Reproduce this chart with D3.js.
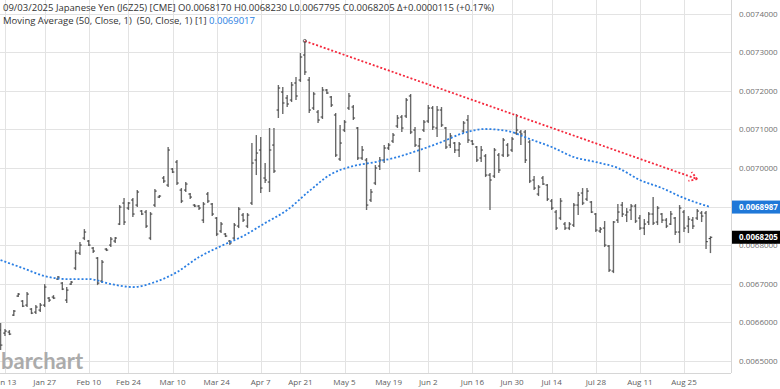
<!DOCTYPE html>
<html>
<head>
<meta charset="utf-8">
<script src="https://cdn.jsdelivr.net/npm/d3@7/dist/d3.min.js"></script>
<style>
  html, body { margin: 0; padding: 0; background: #fff; }
  svg { display: block; font-family: "Open Sans", "DejaVu Sans", sans-serif; }
</style>
</head>
<body>
<svg id="chart" width="780" height="389"></svg>
<script>
// daily bars J6Z25, Jan 10 .. Sep 3 2025 (one value per trading day)
const holidays = ['2025-01-20', '2025-02-17', '2025-04-18', '2025-05-26', '2025-06-19', '2025-07-04', '2025-09-01'];

const open = [
  0.0065801, 0.0065723, 0.0065749, 0.0066189, 0.0066682, 0.0066552, 0.0066448, 0.0066345, 0.0066267, 0.0066319,
  0.0066448, 0.0066630, 0.0066656, 0.0067122, 0.0067018, 0.0066578, 0.0066992, 0.0067407, 0.0067796, 0.0068184,
  0.0068107, 0.0067925, 0.0067666, 0.0067070, 0.0067899, 0.0068003, 0.0068107, 0.0068547, 0.0069091, 0.0068961,
  0.0069169, 0.0069039, 0.0068884, 0.0068858, 0.0068184, 0.0069039, 0.0069246, 0.0069739, 0.0069557, 0.0069972,
  0.0070153, 0.0069427, 0.0069427, 0.0069324, 0.0069039, 0.0069013, 0.0068650, 0.0069324, 0.0069065, 0.0068702,
  0.0068366, 0.0068288, 0.0068107, 0.0068184, 0.0068495, 0.0068780, 0.0068495, 0.0069091, 0.0070205, 0.0070464,
  0.0069739, 0.0069635, 0.0070593, 0.0071500, 0.0071966, 0.0071811, 0.0071759, 0.0072200, 0.0072277, 0.0072925,
  0.0072277, 0.0071552, 0.0071448, 0.0071319, 0.0072018, 0.0071837, 0.0071371, 0.0070231, 0.0070982, 0.0071552,
  0.0071578, 0.0071034, 0.0070257, 0.0070205, 0.0069169, 0.0069609, 0.0070049, 0.0070205, 0.0070516, 0.0070697,
  0.0071086, 0.0071319, 0.0071345, 0.0071863, 0.0070982, 0.0070568, 0.0070982, 0.0071215, 0.0071552, 0.0071034,
  0.0071500, 0.0071034, 0.0070593, 0.0070645, 0.0070464, 0.0070956, 0.0071241, 0.0070697, 0.0070542, 0.0070257,
  0.0070309, 0.0069816, 0.0069790, 0.0070334, 0.0070334, 0.0070593, 0.0070464, 0.0070904, 0.0070930, 0.0070930,
  0.0070671, 0.0069687, 0.0069324, 0.0069739, 0.0069557, 0.0069143, 0.0068858, 0.0068702, 0.0068547, 0.0068443,
  0.0068521, 0.0069039, 0.0069350, 0.0069194, 0.0069117, 0.0068806, 0.0068366, 0.0068443, 0.0067977, 0.0067329,
  0.0068650, 0.0069039, 0.0068780, 0.0068910, 0.0069013, 0.0068702, 0.0068443, 0.0068599, 0.0068806, 0.0068599,
  0.0068806, 0.0068650, 0.0068547, 0.0068702, 0.0068340, 0.0068858, 0.0068495, 0.0068650, 0.0068702, 0.0068832,
  0.0068832, 0.0068170
];
const high = [
  0.0065982, 0.0065827, 0.0065801, 0.0066319, 0.0066759, 0.0066578, 0.0066785, 0.0066371, 0.0066448, 0.0066500,
  0.0066992, 0.0066656, 0.0066707, 0.0067200, 0.0067044, 0.0066915, 0.0067070, 0.0067873, 0.0068081, 0.0068417,
  0.0068132, 0.0067951, 0.0067692, 0.0067614, 0.0067925, 0.0068210, 0.0068210, 0.0069039, 0.0069220, 0.0069117,
  0.0069220, 0.0069427, 0.0068910, 0.0068910, 0.0068858, 0.0069453, 0.0069298, 0.0069790, 0.0070542, 0.0069998,
  0.0070205, 0.0069479, 0.0069635, 0.0069350, 0.0069065, 0.0069039, 0.0069117, 0.0069376, 0.0069091, 0.0068728,
  0.0068599, 0.0068314, 0.0068132, 0.0068573, 0.0068987, 0.0068832, 0.0068832, 0.0070645, 0.0070852, 0.0070801,
  0.0070127, 0.0071034, 0.0071034, 0.0072148, 0.0072096, 0.0071889, 0.0072226, 0.0072355, 0.0072977, 0.0073288,
  0.0072355, 0.0071966, 0.0071500, 0.0072096, 0.0072044, 0.0071863, 0.0071423, 0.0071112, 0.0071241, 0.0071941,
  0.0071630, 0.0071060, 0.0070568, 0.0070257, 0.0069453, 0.0070075, 0.0070283, 0.0070593, 0.0070645, 0.0070904,
  0.0071371, 0.0071371, 0.0071811, 0.0071915, 0.0071060, 0.0070775, 0.0071241, 0.0071630, 0.0071604, 0.0071604,
  0.0071578, 0.0071060, 0.0070904, 0.0070671, 0.0070671, 0.0071215, 0.0071371, 0.0070723, 0.0070568, 0.0070568,
  0.0070360, 0.0069868, 0.0070516, 0.0070386, 0.0070775, 0.0070645, 0.0070801, 0.0071397, 0.0070982, 0.0070982,
  0.0070723, 0.0069790, 0.0069557, 0.0069790, 0.0069583, 0.0069194, 0.0068910, 0.0069220, 0.0068599, 0.0068599,
  0.0069091, 0.0069376, 0.0069479, 0.0069479, 0.0069143, 0.0068832, 0.0068469, 0.0068625, 0.0068003, 0.0068625,
  0.0069065, 0.0069117, 0.0068961, 0.0069065, 0.0069065, 0.0068780, 0.0068676, 0.0068858, 0.0069246, 0.0069013,
  0.0068832, 0.0068702, 0.0068884, 0.0068728, 0.0069039, 0.0068910, 0.0068754, 0.0068728, 0.0068935, 0.0068884,
  0.0068884, 0.0068230
];
const low = [
  0.0065283, 0.0065645, 0.0065671, 0.0066163, 0.0066656, 0.0066397, 0.0066397, 0.0066215, 0.0066215, 0.0066267,
  0.0066397, 0.0066526, 0.0066604, 0.0067096, 0.0066837, 0.0066500, 0.0066966, 0.0067355, 0.0067744, 0.0068132,
  0.0067977, 0.0067796, 0.0066966, 0.0067018, 0.0067847, 0.0067951, 0.0068055, 0.0068521, 0.0068521, 0.0068910,
  0.0068728, 0.0068987, 0.0068780, 0.0068443, 0.0068132, 0.0068987, 0.0069220, 0.0069609, 0.0069505, 0.0069868,
  0.0069557, 0.0069091, 0.0069376, 0.0069194, 0.0068987, 0.0068910, 0.0068573, 0.0069091, 0.0068754, 0.0068236,
  0.0068314, 0.0068210, 0.0068003, 0.0068132, 0.0068443, 0.0068599, 0.0068443, 0.0069039, 0.0069816, 0.0069350,
  0.0069609, 0.0069376, 0.0069868, 0.0071293, 0.0071397, 0.0071578, 0.0071707, 0.0071759, 0.0072226, 0.0072407,
  0.0071423, 0.0071500, 0.0071164, 0.0071267, 0.0071915, 0.0071578, 0.0070283, 0.0070179, 0.0070930, 0.0071500,
  0.0071241, 0.0070205, 0.0070205, 0.0068910, 0.0069117, 0.0069557, 0.0069946, 0.0070127, 0.0070464, 0.0070645,
  0.0071034, 0.0070930, 0.0071293, 0.0070878, 0.0070542, 0.0069894, 0.0070930, 0.0071164, 0.0070982, 0.0070801,
  0.0071060, 0.0070490, 0.0070516, 0.0070386, 0.0070283, 0.0070904, 0.0070645, 0.0070593, 0.0070153, 0.0070153,
  0.0069764, 0.0068910, 0.0069739, 0.0069868, 0.0070283, 0.0070283, 0.0070412, 0.0070852, 0.0070593, 0.0070127,
  0.0069609, 0.0069427, 0.0069272, 0.0069557, 0.0069143, 0.0068910, 0.0068391, 0.0068650, 0.0068391, 0.0068391,
  0.0068469, 0.0068780, 0.0069039, 0.0069143, 0.0068832, 0.0068340, 0.0068314, 0.0067951, 0.0067303, 0.0067277,
  0.0068573, 0.0068728, 0.0068599, 0.0068650, 0.0068573, 0.0068391, 0.0068262, 0.0068521, 0.0068521, 0.0068521,
  0.0068573, 0.0068443, 0.0068521, 0.0068262, 0.0068055, 0.0068340, 0.0068314, 0.0068417, 0.0068650, 0.0068599,
  0.0067899, 0.0067795
];
const close = [
  0.0065412, 0.0065775, 0.0065697, 0.0066293, 0.0066733, 0.0066422, 0.0066733, 0.0066241, 0.0066397, 0.0066448,
  0.0066915, 0.0066578, 0.0066630, 0.0067174, 0.0066863, 0.0066837, 0.0067044, 0.0067796, 0.0068003, 0.0068340,
  0.0068003, 0.0067847, 0.0067018, 0.0067562, 0.0067873, 0.0068158, 0.0068184, 0.0068987, 0.0068599, 0.0069091,
  0.0068806, 0.0069376, 0.0068806, 0.0068495, 0.0068806, 0.0069401, 0.0069272, 0.0069661, 0.0070464, 0.0069894,
  0.0069609, 0.0069143, 0.0069583, 0.0069246, 0.0069013, 0.0068961, 0.0069065, 0.0069143, 0.0068806, 0.0068288,
  0.0068547, 0.0068236, 0.0068055, 0.0068521, 0.0068935, 0.0068650, 0.0068780, 0.0070127, 0.0070386, 0.0069479,
  0.0069687, 0.0070464, 0.0069920, 0.0072070, 0.0071682, 0.0071656, 0.0072148, 0.0071863, 0.0072873, 0.0072485,
  0.0071500, 0.0071915, 0.0071241, 0.0072018, 0.0071941, 0.0071630, 0.0070334, 0.0070645, 0.0071189, 0.0071863,
  0.0071293, 0.0070257, 0.0070464, 0.0069039, 0.0069376, 0.0069998, 0.0070205, 0.0070516, 0.0070593, 0.0070852,
  0.0071293, 0.0071034, 0.0071759, 0.0070930, 0.0070593, 0.0070749, 0.0071189, 0.0071552, 0.0071060, 0.0071500,
  0.0071112, 0.0070542, 0.0070827, 0.0070464, 0.0070619, 0.0071164, 0.0070723, 0.0070619, 0.0070205, 0.0070464,
  0.0069816, 0.0069687, 0.0070464, 0.0069946, 0.0070723, 0.0070334, 0.0070749, 0.0070982, 0.0070878, 0.0070205,
  0.0069661, 0.0069479, 0.0069505, 0.0069583, 0.0069194, 0.0068961, 0.0068443, 0.0069143, 0.0068443, 0.0068547,
  0.0069039, 0.0069298, 0.0069091, 0.0069401, 0.0068858, 0.0068391, 0.0068417, 0.0068003, 0.0067355, 0.0068599,
  0.0068858, 0.0068806, 0.0068858, 0.0069013, 0.0068625, 0.0068443, 0.0068547, 0.0068806, 0.0068573, 0.0068961,
  0.0068650, 0.0068495, 0.0068806, 0.0068340, 0.0068961, 0.0068443, 0.0068676, 0.0068495, 0.0068884, 0.0068754,
  0.0068090, 0.0068205
];

// 50-day moving average
const maDates = ['2025-01-10', '2025-01-17', '2025-01-27', '2025-02-03', '2025-02-10', '2025-02-18', '2025-02-25',
  '2025-03-04', '2025-03-11', '2025-03-18', '2025-03-25', '2025-04-01', '2025-04-08', '2025-04-15', '2025-04-23',
  '2025-04-30', '2025-05-07', '2025-05-14', '2025-05-21', '2025-05-29', '2025-06-05', '2025-06-12', '2025-06-20',
  '2025-06-27', '2025-07-07', '2025-07-14', '2025-07-21', '2025-07-28', '2025-08-04', '2025-08-11', '2025-08-18',
  '2025-08-25', '2025-09-03'];
const maValues = [0.0067614, 0.0067407, 0.0067200, 0.0067122, 0.0067122, 0.0066992, 0.0066915,
  0.0067044, 0.0067303, 0.0067692, 0.0067977, 0.0068236, 0.0068573, 0.0068910, 0.0069401,
  0.0069842, 0.0070049, 0.0070153, 0.0070283, 0.0070464, 0.0070671, 0.0070904, 0.0071008,
  0.0070956, 0.0070749, 0.0070542, 0.0070283, 0.0070153, 0.0069998, 0.0069687, 0.0069479,
  0.0069220, 0.0068987];

// red trend line drawn on the chart
const trendDates = ['2025-04-22', '2025-08-28'];
const trendValues = [0.0073288, 0.0069713];

const tickDates = ['2025-01-13', '2025-01-27', '2025-02-10', '2025-02-24', '2025-03-10', '2025-03-24', '2025-04-07',
  '2025-04-21', '2025-05-05', '2025-05-19', '2025-06-02', '2025-06-16', '2025-06-30', '2025-07-14', '2025-07-28',
  '2025-08-11', '2025-08-25'];
const priceTicks = d3.range(0.0065, 0.00741, 0.0001);

const lastClose = 0.0068205;
const lastMA = 0.0068987;

// trading days
const parse = d3.timeParse('%Y-%m-%d');
const fmtDay = d3.timeFormat('%Y-%m-%d');
const days = d3.timeDay.range(parse('2025-01-10'), parse('2025-09-04'))
  .filter(d => d.getDay() !== 0 && d.getDay() !== 6)
  .map(fmtDay)
  .filter(d => holidays.indexOf(d) < 0);
if (days.length !== close.length) console.error('day count', days.length, close.length);

const bars = days.map((d, i) => ({ d: d, o: open[i], h: high[i], l: low[i], c: close[i] }));

const plotR = 731, plotB = 373;
const step = (684 - 5) / 154;

const x = d3.scalePoint()
  .domain(days)
  .range([5 - step, 5 + step * (days.length - 2)]);
const y = d3.scaleLinear()
  .domain([0.0065, 0.0074])
  .range([361, 13.5]);

const svg = d3.select('#chart');

// grid
const grid = svg.append('g').attr('stroke', '#e3e3e3').attr('stroke-width', 1);
grid.selectAll('line.h').data(priceTicks).enter().append('line')
  .attr('x1', 0).attr('x2', plotR)
  .attr('y1', d => Math.round(y(d)) + 0.5).attr('y2', d => Math.round(y(d)) + 0.5);
grid.selectAll('line.v').data(tickDates).enter().append('line')
  .attr('x1', d => Math.round(x(d)) + 0.5).attr('x2', d => Math.round(x(d)) + 0.5)
  .attr('y1', 0).attr('y2', plotB);

// frame right/bottom
svg.append('line').attr('x1', plotR + 0.5).attr('x2', plotR + 0.5).attr('y1', 0).attr('y2', plotB)
  .attr('stroke', '#d6d6d6');
svg.append('line').attr('x1', 0).attr('x2', plotR).attr('y1', plotB + 0.5).attr('y2', plotB + 0.5)
  .attr('stroke', '#d6d6d6');

// watermark
svg.append('text')
  .attr('x', 1).attr('y', 369)
  .attr('font-family', 'Lato, "Open Sans", sans-serif')
  .attr('font-size', 22).attr('font-weight', 700)
  .attr('fill', '#ababab')
  .text('barchart');

// y axis labels
svg.append('g').selectAll('text').data(priceTicks).enter().append('text')
  .attr('x', 739).attr('y', d => y(d) + 3)
  .attr('font-size', 8).attr('fill', '#707070')
  .text(d => d3.format('.7f')(d));

// x axis labels
svg.append('g').selectAll('text').data(tickDates).enter().append('text')
  .attr('x', d => x(d)).attr('y', 385)
  .attr('text-anchor', 'middle')
  .attr('font-size', 8).attr('fill', '#606060')
  .text(d => d3.timeFormat('%b %-d')(parse(d)));

// OHLC bars
const g = svg.append('g');
g.selectAll('line.hl').data(bars).enter().append('line')
  .attr('x1', d => x(d.d)).attr('x2', d => x(d.d))
  .attr('y1', d => y(d.h)).attr('y2', d => y(d.l))
  .attr('stroke', '#6a6a6a').attr('stroke-width', 1.4);
g.selectAll('line.o').data(bars).enter().append('line')
  .attr('x1', d => x(d.d) - 1.8).attr('x2', d => x(d.d))
  .attr('y1', d => y(d.o)).attr('y2', d => y(d.o))
  .attr('stroke', '#333').attr('stroke-width', 1);
g.selectAll('line.c').data(bars).enter().append('line')
  .attr('x1', d => x(d.d)).attr('x2', d => x(d.d) + 1.8)
  .attr('y1', d => y(d.c)).attr('y2', d => y(d.c))
  .attr('stroke', '#333').attr('stroke-width', 1);

// moving average
const ma = maDates.map((d, i) => [x(d), y(maValues[i])]);
svg.append('path')
  .attr('d', d3.line().curve(d3.curveMonotoneX)(ma))
  .attr('fill', 'none')
  .attr('stroke', '#2b7fe3').attr('stroke-width', 1.8)
  .attr('stroke-dasharray', '2,2');

// trend line + arrow
const t0 = [x(trendDates[0]), y(trendValues[0])];
const t1 = [x(trendDates[1]), y(trendValues[1])];
svg.append('line')
  .attr('x1', t0[0]).attr('y1', t0[1]).attr('x2', t1[0]).attr('y2', t1[1])
  .attr('stroke', '#f5293d').attr('stroke-width', 1.8)
  .attr('stroke-dasharray', '2,2');
const ang = Math.atan2(t1[1] - t0[1], t1[0] - t0[0]);
[-0.55, 0.55].forEach(a => {
  svg.append('line')
    .attr('x1', t1[0]).attr('y1', t1[1])
    .attr('x2', t1[0] - 9 * Math.cos(ang + a)).attr('y2', t1[1] - 9 * Math.sin(ang + a))
    .attr('stroke', '#f5293d').attr('stroke-width', 1.8)
    .attr('stroke-dasharray', '2,2');
});
svg.append('circle').attr('cx', t0[0]).attr('cy', t0[1]).attr('r', 1.6)
  .attr('fill', 'none').attr('stroke', '#555').attr('stroke-width', 0.8);

// last value boxes
function valueBox(v, fill) {
  svg.append('rect')
    .attr('x', plotR + 1).attr('y', y(v) - 6.5).attr('width', 48).attr('height', 13)
    .attr('fill', fill);
  svg.append('text')
    .attr('x', 739).attr('y', y(v) + 3)
    .attr('font-size', 8).attr('font-weight', 700).attr('fill', '#fff')
    .text(d3.format('.7f')(v));
}
valueBox(lastMA, '#1f78d8');
valueBox(lastClose, '#000');

// header
const last = bars[bars.length - 1];
const prev = bars[bars.length - 2];
const f7 = d3.format('.7f');
const chg = last.c - prev.c;
svg.append('text')
  .attr('x', 3).attr('y', 11)
  .attr('font-size', 9.5).attr('fill', '#333')
  .text('09/03/2025 Japanese Yen (J6Z25) [CME] O' + f7(last.o) + ' H' + f7(last.h) + ' L' + f7(last.l) +
    ' C' + f7(last.c) + ' \u0394' + (chg >= 0 ? '+' : '') + f7(chg) +
    ' (' + (chg >= 0 ? '+' : '') + d3.format('.2f')(chg / prev.c * 100) + '%)');
const h2 = svg.append('text')
  .attr('x', 3).attr('y', 24)
  .attr('font-size', 9.5).attr('fill', '#333');
h2.append('tspan').text('Moving Average (50, Close, 1)\u00a0\u00a0(50, Close, 1) [1] ');
h2.append('tspan').attr('fill', '#2b7fe3').text('0.0069017');
</script>
</body>
</html>
